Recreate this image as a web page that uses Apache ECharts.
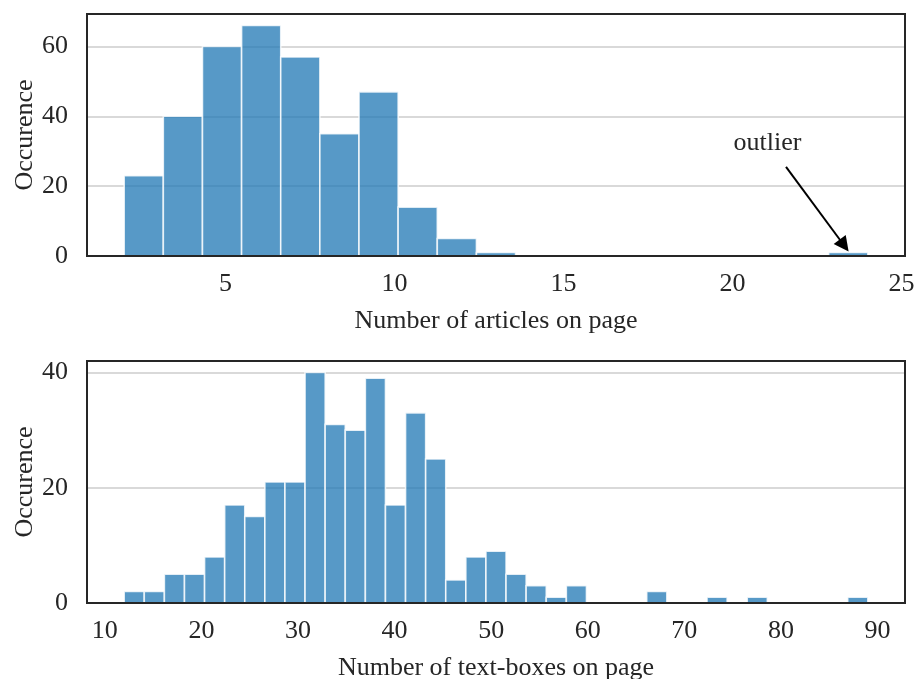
<!DOCTYPE html>
<html>
<head>
<meta charset="utf-8">
<script src="https://cdn.jsdelivr.net/npm/echarts@6/dist/echarts.min.js"></script>
<style>
  html, body { margin: 0; padding: 0; background: #ffffff; }
  #chart { width: 917px; height: 679px; }
</style>
</head>
<body>
<div id="chart"></div>
<script>
// Histogram 1: articles per page (19 equal bins from 2 to 24)
const articleRange = [2, 24];
const articleCounts = [23, 40, 60, 66, 57, 35, 47, 14, 5, 1, 0, 0, 0, 0, 0, 0, 0, 0, 1];
const articleTicks = [5, 10, 15, 20, 25];
const articleYTicks = [0, 20, 40, 60];

// Histogram 2: text-boxes per page (37 equal bins from 12 to 89)
const boxRange = [12, 89];
const boxCounts = [2, 2, 5, 5, 8, 17, 15, 21, 21, 40, 31, 30, 39, 17, 33, 25, 4, 8, 9, 5,
                   3, 1, 3, 0, 0, 0, 2, 0, 0, 1, 0, 1, 0, 0, 0, 0, 1];
const boxTicks = [10, 20, 30, 40, 50, 60, 70, 80, 90];
const boxYTicks = [0, 20, 40];

// Annotation pointing at the lone bin on the far right
const outlierText = 'outlier';
const outlierTextAt = [21.03, 32.2];
const outlierArrow = [[21.58, 25.5], [23.3, 3.0]];

const FONT = "'Liberation Serif', 'DejaVu Serif', serif";
const INK = '#262626';
const FS = 26;

// turn counts into [left edge, right edge, count] rows
function bins(range, counts) {
  const w = (range[1] - range[0]) / counts.length;
  return counts.map((c, i) => [range[0] + i * w, range[0] + (i + 1) * w, c]);
}
// matplotlib-style 5% padding around the data range
function padded(range, frac) {
  const p = (range[1] - range[0]) * frac;
  return [range[0] - p, range[1] + p];
}

function renderBin(params, api) {
  const y = api.value(2);
  if (!y) return null;
  const p0 = api.coord([api.value(0), y]);
  const p1 = api.coord([api.value(1), 0]);
  return {
    type: 'rect',
    shape: { x: p0[0], y: p0[1], width: p1[0] - p0[0], height: p1[1] - p0[1] },
    style: { fill: 'rgba(31,119,180,0.75)', stroke: 'rgba(255,255,255,0.8)', lineWidth: 1.6 }
  };
}

const aX = padded(articleRange, 0.05);
const bX = padded(boxRange, 0.05);
const aYMax = Math.max(...articleCounts) * 1.05;
const bYMax = Math.max(...boxCounts) * 1.05;

function xAxis(idx, ext, ticks, name) {
  return {
    type: 'value', gridIndex: idx, min: ext[0], max: ext[1],
    name: name, nameLocation: 'middle', nameGap: 52, nameMoveOverlap: false,
    nameTextStyle: { fontFamily: FONT, fontSize: FS, color: INK },
    axisLine: { show: false }, axisTick: { show: false }, splitLine: { show: false },
    axisLabel: { customValues: ticks, fontFamily: FONT, fontSize: FS, color: INK, margin: 15 }
  };
}
function yAxis(idx, max, ticks) {
  return {
    type: 'value', gridIndex: idx, min: 0, max: max, interval: 20,
    name: 'Occurence', nameLocation: 'middle', nameGap: 49, nameRotate: 90, nameMoveOverlap: false,
    nameTextStyle: { fontFamily: FONT, fontSize: FS, color: INK },
    axisLine: { show: false }, axisTick: { show: false },
    splitLine: { show: true, lineStyle: { color: '#cccccc', width: 1.6 } },
    axisLabel: { customValues: ticks, fontFamily: FONT, fontSize: FS, color: INK, margin: 19 }
  };
}

const gridBase = { left: 87, right: 12, height: 242, show: true, borderColor: INK, borderWidth: 2,
                   z: 5, containLabel: false, outerBoundsMode: 'none' };

const chart = echarts.init(document.getElementById('chart'), null, { renderer: 'canvas' });
chart.setOption({
  animation: false,
  backgroundColor: '#ffffff',
  grid: [
    Object.assign({ top: 14 }, gridBase),
    Object.assign({ top: 361 }, gridBase)
  ],
  xAxis: [
    xAxis(0, aX, articleTicks, 'Number of articles on page'),
    xAxis(1, bX, boxTicks, 'Number of text-boxes on page')
  ],
  yAxis: [
    yAxis(0, aYMax, articleYTicks),
    yAxis(1, bYMax, boxYTicks)
  ],
  series: [
    { type: 'custom', xAxisIndex: 0, yAxisIndex: 0, renderItem: renderBin,
      encode: { x: [0, 1], y: 2 }, data: bins(articleRange, articleCounts), silent: true, z: 2 },
    { type: 'custom', xAxisIndex: 1, yAxisIndex: 1, renderItem: renderBin,
      encode: { x: [0, 1], y: 2 }, data: bins(boxRange, boxCounts), silent: true, z: 2 },
    { type: 'lines', coordinateSystem: 'cartesian2d', xAxisIndex: 0, yAxisIndex: 0,
      symbol: ['none', 'triangle'], symbolSize: [13, 15], silent: true, z: 6,
      lineStyle: { color: '#000000', width: 2, opacity: 1 },
      data: [{ coords: outlierArrow }] },
    { type: 'scatter', xAxisIndex: 0, yAxisIndex: 0, symbolSize: 0, silent: true, z: 6,
      itemStyle: { color: INK, opacity: 1 },
      label: { show: true, position: 'inside', formatter: outlierText, opacity: 1,
               textBorderWidth: 0, fontFamily: FONT, fontSize: FS, color: INK },
      data: [outlierTextAt] }
  ]
});
</script>
</body>
</html>
